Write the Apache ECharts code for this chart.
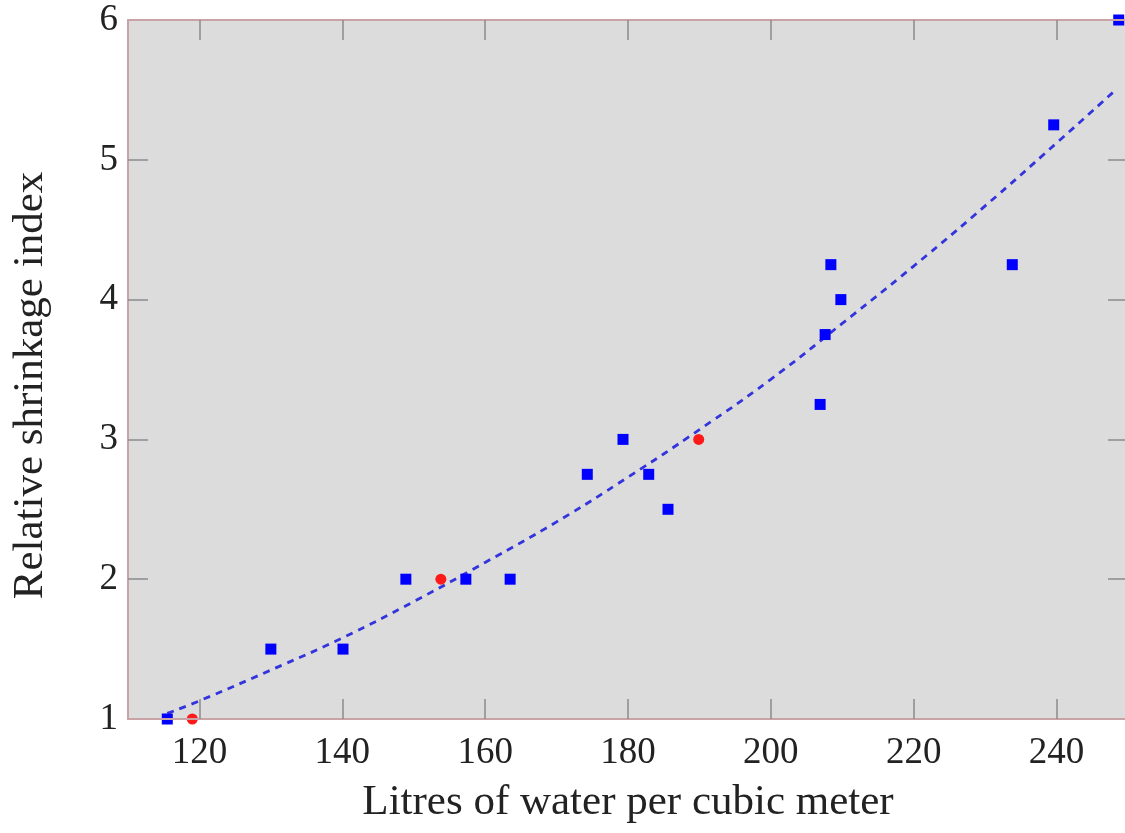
<!DOCTYPE html>
<html>
<head>
<meta charset="utf-8">
<script src="https://cdn.jsdelivr.net/npm/echarts@6/dist/echarts.min.js"></script>
<style>html,body{margin:0;padding:0;background:#fff;}#c{width:1125px;height:833px;}</style>
</head>
<body>
<div id="c"></div>
<script>
// Measured points (blue squares)
const bluePoints = [
  [115.5, 1.0], [130.0, 1.5], [140.1, 1.5], [148.9, 2.0], [157.3, 2.0], [163.5, 2.0],
  [174.3, 2.75], [179.3, 3.0], [182.9, 2.75], [185.6, 2.5], [206.9, 3.25], [207.6, 3.75],
  [208.4, 4.25], [209.8, 4.0], [233.8, 4.25], [239.6, 5.25], [248.7, 6.0]
];
// Red circles
const redPoints = [[119.0, 1.0], [153.8, 2.0], [189.9, 3.0]];
// Dashed trend curve
const trendPoints = [
  [115.5, 1.04], [120, 1.13], [130, 1.35], [140, 1.58], [150, 1.84], [160, 2.12],
  [170, 2.41], [180, 2.73], [190, 3.07], [200, 3.43], [210, 3.83], [220, 4.24],
  [230, 4.67], [240, 5.12], [248.5, 5.51]
];
const xTicks = [120, 140, 160, 180, 200, 220, 240];
const yTicks = [1, 2, 3, 4, 5, 6];
const xTitle = 'Litres of water per cubic meter';
const yTitle = 'Relative shrinkage index';

const font = 'Liberation Serif';
const border = '#c9a3a5';
const tickColor = '#8a8a8a';

const chart = echarts.init(document.getElementById('c'));
const xTickOpt = {show: true, inside: true, length: 20, customValues: xTicks, lineStyle: {color: tickColor, width: 1.5}};
const yTickOpt = {show: true, inside: true, length: 20, customValues: yTicks.slice(1, 5), lineStyle: {color: tickColor, width: 1.5}};
chart.setOption({
  animation: false,
  backgroundColor: '#ffffff',
  grid: {left: 128, top: 20, width: 1000, height: 699, show: true, backgroundColor: '#dcdcdc', borderWidth: 0,
         outerBoundsMode: 'none', containLabel: false},
  xAxis: [
    {type: 'value', position: 'bottom', min: 110, max: 250, z: 5,
     axisLine: {show: true, onZero: false, lineStyle: {color: border, width: 2}},
     axisTick: xTickOpt, splitLine: {show: false},
     axisLabel: {fontFamily: font, fontSize: 37, color: '#222', margin: 16, customValues: xTicks},
     name: xTitle, nameLocation: 'middle', nameGap: 62,
     nameTextStyle: {fontFamily: font, fontSize: 43, color: '#222'}},
    {type: 'value', position: 'top', min: 110, max: 250, z: 5,
     axisLine: {show: true, onZero: false, lineStyle: {color: border, width: 2}},
     axisTick: xTickOpt, splitLine: {show: false}, axisLabel: {show: false}}
  ],
  yAxis: [
    {type: 'value', position: 'left', min: 1, max: 6, interval: 1, z: 5,
     axisLine: {show: true, onZero: false, lineStyle: {color: border, width: 2}},
     axisTick: yTickOpt, splitLine: {show: false},
     axisLabel: {fontFamily: font, fontSize: 37, color: '#222', margin: 10, customValues: yTicks},
     name: yTitle, nameLocation: 'middle', nameGap: 76, nameRotate: 90,
     nameTextStyle: {fontFamily: font, fontSize: 43, color: '#222', padding: [0, 32, 0, 0]}},
    {type: 'value', position: 'right', min: 1, max: 6, interval: 1, z: 5,
     axisLine: {show: true, onZero: false, lineStyle: {color: border, width: 2}},
     axisTick: yTickOpt, splitLine: {show: false}, axisLabel: {show: false}}
  ],
  series: [
    {type: 'line', data: trendPoints, smooth: true, symbol: 'none', clip: true, z: 2,
     lineStyle: {color: '#3434dc', width: 2.8, type: [7, 6]}},
    {type: 'scatter', data: bluePoints, symbol: 'rect', symbolSize: 11, clip: false, z: 3,
     itemStyle: {color: '#0000ff', opacity: 1}},
    {type: 'scatter', data: redPoints, symbol: 'circle', symbolSize: 11, clip: false, z: 3,
     itemStyle: {color: '#ff1a1a', opacity: 1}}
  ]
});
</script>
</body>
</html>
